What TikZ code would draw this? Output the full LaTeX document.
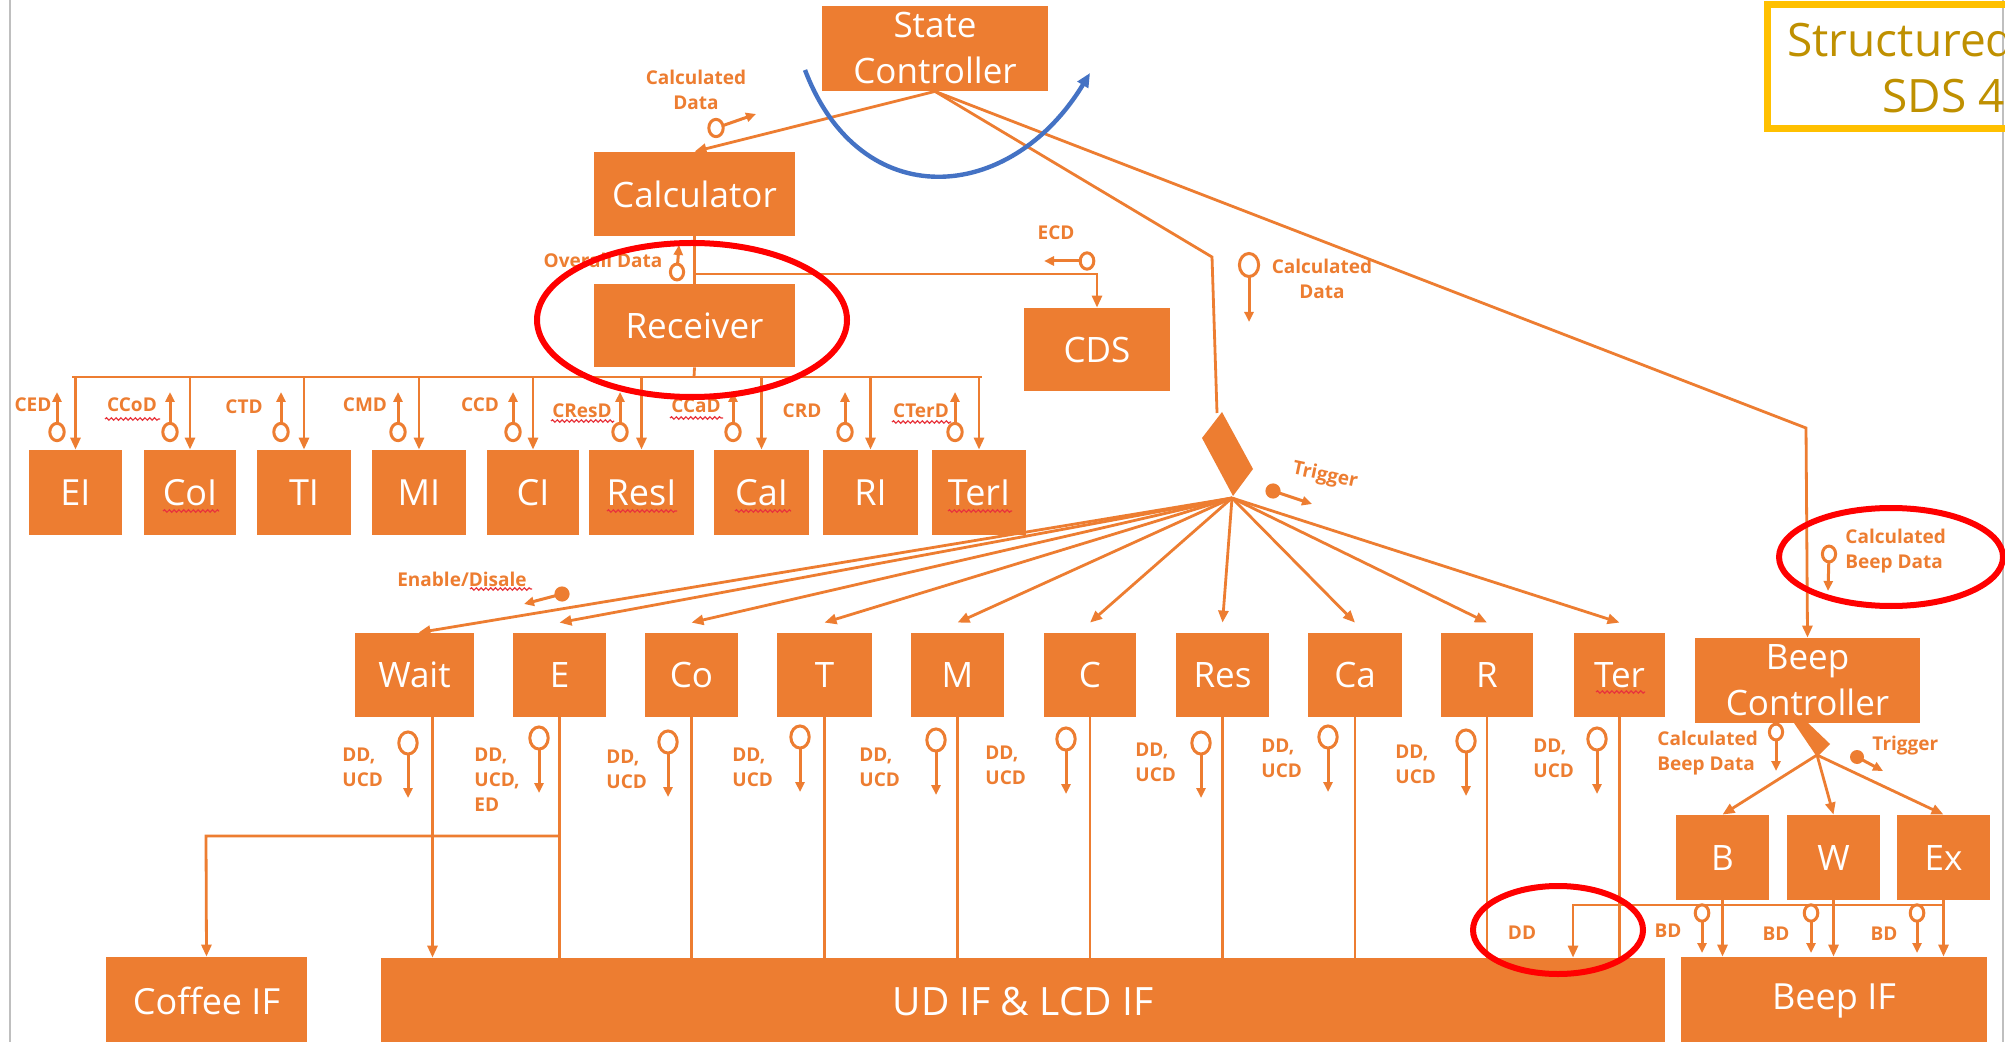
\documentclass[tikz,border=0pt]{standalone}
\usepackage{fontspec}
\setmainfont{Open Sans}
\usetikzlibrary{arrows.meta,calc,decorations.pathmorphing}
\definecolor{org}{HTML}{ED7D31}
\definecolor{blu}{HTML}{4472C4}
\definecolor{ylw}{HTML}{FFC000}
\definecolor{gld}{HTML}{BF9000}
\definecolor{redc}{HTML}{FF0000}
\definecolor{sq}{HTML}{E8343C}
\newcommand\bx[7]{%
  \pgfmathsetmacro\bxw{(#5-#3)/2}%
  \pgfmathsetmacro\bxh{(#6-#4)/2}%
  \node[box,#1,minimum width=\bxw pt,minimum height=\bxh pt] (#2) at ({(#3+#5)/2},{(#4+#6)/2}) {#7};}
\newcommand\dfo[3][3.6pt]{%
  \draw[dfl,-{Triangle[length=5pt,width=4.5pt]}] #2 -- #3;
  \draw[dfl,fill=white] #2 ellipse[x radius=#1,y radius={1.2*#1}];}
\newcommand\dff[3][3.8pt]{%
  \fill[org] #2 circle[radius=#1];
  \draw[dfl,-{Triangle[length=5pt,width=4.5pt]}] #2 -- #3;}
\begin{document}
\begin{tikzpicture}[x=0.5pt,y=-0.5pt,
  box/.style={fill=org,text=white,inner sep=0pt,align=center},
  fbig/.style={font=\fontsize{17.5}{23}\selectfont},
  fI/.style={font=\fontsize{18}{22}\selectfont},
  fIF/.style={font=\fontsize{18}{22}\selectfont},
  ln/.style={draw=org,line width=1.4pt},
  arr/.style={ln,-{Triangle[length=6pt,width=5pt]}},
  dfl/.style={draw=org,line width=1.5pt},
  lbl/.style={text=org,font=\bfseries\fontsize{9.5}{12.5}\selectfont,inner sep=0pt},
  sqg/.style={draw=sq,line width=0.6pt,decorate,decoration={snake,amplitude=0.6pt,segment length=2.4pt}},
  redring/.style={draw=redc,line width=3pt}
]
\useasboundingbox (0,0) rectangle (2005,1042);
\clip (0,0) rectangle (2005,1042);
\fill[white] (0,0) rectangle (2005,1042);
\draw[black!25,line width=0.8pt] (10,0) -- (10,1042);
\draw[black!25,line width=0.8pt] (2003,0) -- (2003,1042);

% title box (cut at the right edge, as in the reference)
\draw[ylw,line width=3.5pt] (1767,4.5) rectangle (2030,129);
\node[text=gld,font=\fontsize{23}{28}\selectfont,anchor=base west,inner sep=0pt] (tS) at (1787,57) {Structured};
\node[text=gld,font=\fontsize{23}{28}\selectfont,anchor=base west,inner sep=0pt] (tD) at (1882,113) {SDS 4};

% boxes
\bx{fbig}{SC}{822}{6}{1048}{91}{State\\Controller}
\bx{fbig}{Calc}{594}{152}{795}{236}{Calculator}
\bx{fbig}{Recv}{594}{284}{795}{367}{Receiver}
\bx{fbig}{CDS}{1024}{308}{1170}{391}{CDS}
\bx{fI}{EI}{29}{450}{122}{535}{EI}
\bx{fI}{CoI}{144}{450}{236}{535}{CoI}
\bx{fI}{TI}{257}{450}{351}{535}{TI}
\bx{fI}{MI}{372}{450}{466}{535}{MI}
\bx{fI}{CI}{487}{450}{579}{535}{CI}
\bx{fI}{ResI}{589}{450}{694}{535}{ResI}
\bx{fI}{CaI}{714}{450}{809}{535}{CaI}
\bx{fI}{RI}{823}{450}{918}{535}{RI}
\bx{fI}{TerI}{932}{450}{1026}{535}{TerI}
\bx{fbig}{Wait}{355}{633}{474}{717}{Wait}
\bx{fbig}{E}{513}{633}{606}{717}{E}
\bx{fbig}{Co}{645}{633}{738}{717}{Co}
\bx{fbig}{T}{777}{633}{872}{717}{T}
\bx{fbig}{M}{911}{633}{1004}{717}{M}
\bx{fbig}{C}{1044}{633}{1136}{717}{C}
\bx{fbig}{Res}{1176}{633}{1269}{717}{Res}
\bx{fbig}{Ca}{1308}{633}{1402}{717}{Ca}
\bx{fbig}{R}{1441}{633}{1533}{717}{R}
\bx{fbig}{Ter}{1574}{633}{1665}{717}{Ter}
\bx{fbig}{BeepC}{1695}{638}{1920}{723}{Beep\\Controller}
\bx{fbig}{B}{1676}{815}{1769}{900}{B}
\bx{fbig}{W}{1787}{815}{1880}{900}{W}
\bx{fbig}{Ex}{1897}{815}{1990}{900}{Ex}
\bx{fIF}{CofIF}{106}{957}{307}{1045}{Coffee IF}
\bx{font=\fontsize{19.5}{22}\selectfont}{UDIF}{381}{958}{1665}{1045}{UD IF \& LCD IF}
\bx{fIF}{BeepIF}{1681}{957}{1987}{1045}{Beep IF}

% coordinates
\coordinate (tbend) at (1212,257);
\coordinate (dtop) at (1217,413);
\coordinate (hub) at (1232,498);
\coordinate (bbend) at (1806,428);
\coordinate (cdsj) at (694,274);
\coordinate (cdsb) at (1097,274);
\coordinate (busL) at (72,377);
\coordinate (busR) at (982,377);
\coordinate (busM) at (694,377);
\coordinate (cofj) at (559,836);
\coordinate (cofb) at (206,836);
\coordinate (bhub) at (1817,755);
\coordinate (hy) at (0,905);
\coordinate (ddx) at (1573,905);

% trigger diamonds
\fill[org] (1222,412) -- (1253,469) -- (1233,496) -- (1202,438) -- cycle;
\fill[org] (1794,723) -- (1807,722) -- (1830,744) -- (1817,757) -- cycle;

% State Controller connectors
\draw[arr] (SC.south) -- (Calc.north);
\draw[ln] (SC.south) -- (tbend) -- (dtop);
\draw[arr] (SC.south) -- (bbend) -- (BeepC.north);

% Calculator / Receiver / CDS
\draw[ln] (Calc.south) -- (Recv.north);
\draw[arr] (cdsj) -- (cdsb) -- (CDS.north);
\draw[ln] (Recv.south) -- (busM);
\draw[ln] (busL) -- (busR);
\foreach \n in {EI,CoI,TI,MI,CI,ResI,CaI,RI,TerI}{
  \draw[arr] (\n.north |- busL) -- (\n.north);
}

% fan out from trigger
\draw[arr] (hub) -- ([xshift=2pt]Wait.north);
\foreach \n in {E,Co,T,M,C,Res,Ca,R,Ter}{
  \draw[arr] (hub) -- ([yshift=5pt]\n.north);
}

% second row to interfaces
\draw[arr] ([xshift=9pt]Wait.south) -- ([xshift=9pt]Wait.south |- UDIF.north);
\foreach \n in {E,Co,T,M,C,Res,Ca,R,Ter}{
  \draw[ln] (\n.south) -- (\n.south |- UDIF.north);
}
\draw[arr] (cofj) -- (cofb) -- (CofIF.north);

% beep part
\foreach \n in {B,W,Ex}{
  \draw[arr] (bhub) -- (\n.north);
  \draw[arr] (\n.south) -- (\n.south |- BeepIF.north);
}
\draw[arr] (Ex.south |- hy) -- (ddx) -- (ddx |- UDIF.north);

% blue curve
\draw[blu,line width=2.2pt,-{Triangle[length=7pt,width=6pt]}] (805,70) .. controls (860,215) and (1010,205) .. (1090,73);

% data flow labels and symbols
\node[lbl,align=center,anchor=north] (lCD1) at (696,70) {Calculated\\Data};
\dfo{(716,128)}{(756,114)}
\node[lbl] (lOD) at (603,260) {Overall Data};
\dfo[3.3pt]{(677,272)}{(679,245)}
\node[lbl] (lECD) at (1056,233) {ECD};
\dfo[3.4pt]{(1087,261)}{(1044,261)}
\node[lbl,align=center,anchor=north] (lCD2) at (1322,259) {Calculated\\Data};
\dfo[4.8pt]{(1249,265)}{(1249,322)}
\node[lbl,rotate=-12] (lTrig) at (1325,476) {Trigger};
\dff{(1273,491)}{(1312,504)}
\node[lbl] (lEn) at (462,579) {Enable/Disale};
\dff{(562,594)}{(524,604)}

% top row flows
\foreach \x/\lx/\ly/\t in {57/33/405/CED,170/132/405/CCoD,281/244/407/CTD,398/365/405/CMD,513/480/405/CCD,620/582/411/CResD,733/696/406/CCaD,845/802/411/CRD,955/921/411/CTerD}{
  \node[lbl] (l\t) at (\lx,\ly) {\t};
  \dfo{(\x,432)}{(\x,392)}
}

% second row flows
\node[lbl,anchor=north west,align=left] (dWait) at (342,748) {DD,\\UCD};
\node[lbl,anchor=north west,align=left] (dE) at (474,748) {DD,\\UCD,\\ED};
\node[lbl,anchor=north west,align=left] (dCo) at (606,750) {DD,\\UCD};
\node[lbl,anchor=north west,align=left] (dT) at (732,748) {DD,\\UCD};
\node[lbl,anchor=north west,align=left] (dM) at (859,748) {DD,\\UCD};
\node[lbl,anchor=north west,align=left] (dC) at (985,746) {DD,\\UCD};
\node[lbl,anchor=north west,align=left] (dRes) at (1135,743) {DD,\\UCD};
\node[lbl,anchor=north west,align=left] (dCa) at (1261,739) {DD,\\UCD};
\node[lbl,anchor=north west,align=left] (dR) at (1395,745) {DD,\\UCD};
\node[lbl,anchor=north west,align=left] (dTer) at (1533,739) {DD,\\UCD};
\foreach \x/\y in {408/743,539/738,668/742,800/737,936/740,1066/739,1201/743,1328/737,1466/741,1597/739}{
  \dfo[4.6pt]{(\x,\y)}{(\x,\y+55)}
}

% beep flows
\node[lbl,anchor=north west,align=left] (lCBD1) at (1845,529) {Calculated\\Beep Data};
\dfo[3.3pt]{(1829,554)}{(1828,591)}
\node[lbl,anchor=north west,align=left] (lCBD2) at (1657,731) {Calculated\\Beep Data};
\dfo[3.3pt]{(1776,732)}{(1776,771)}
\node[lbl,anchor=north west] (lTrig2) at (1872,736) {Trigger};
\dff[3.5pt]{(1857,757)}{(1883,771)}
\node[lbl] (lDD) at (1522,933) {DD};
\node[lbl] (lBD1) at (1668,931) {BD};
\node[lbl] (lBD2) at (1776,934) {BD};
\node[lbl] (lBD3) at (1884,934) {BD};
\foreach \x in {1702,1811,1917}{
  \dfo[3.4pt]{(\x,913)}{(\x,953)}
}

% spell-check squiggles
\foreach \a/\b/\y in {105/160/419,551/614/421,670/723/418,892/951/422,163/219/511,607/677/511,735/791/511,948/1012/511,1596/1645/692,470/532/589}{
  \draw[sqg] (\a,\y) -- (\b,\y);
}

% red ellipses
\draw[redring] (692,320) ellipse[x radius=77.5pt,y radius=38.5pt];
\draw[redring] (1891,557) ellipse[x radius=56pt,y radius=24.5pt];
\draw[redring] (1558,930) ellipse[x radius=42.5pt,y radius=22pt];
\end{tikzpicture}
\end{document}
